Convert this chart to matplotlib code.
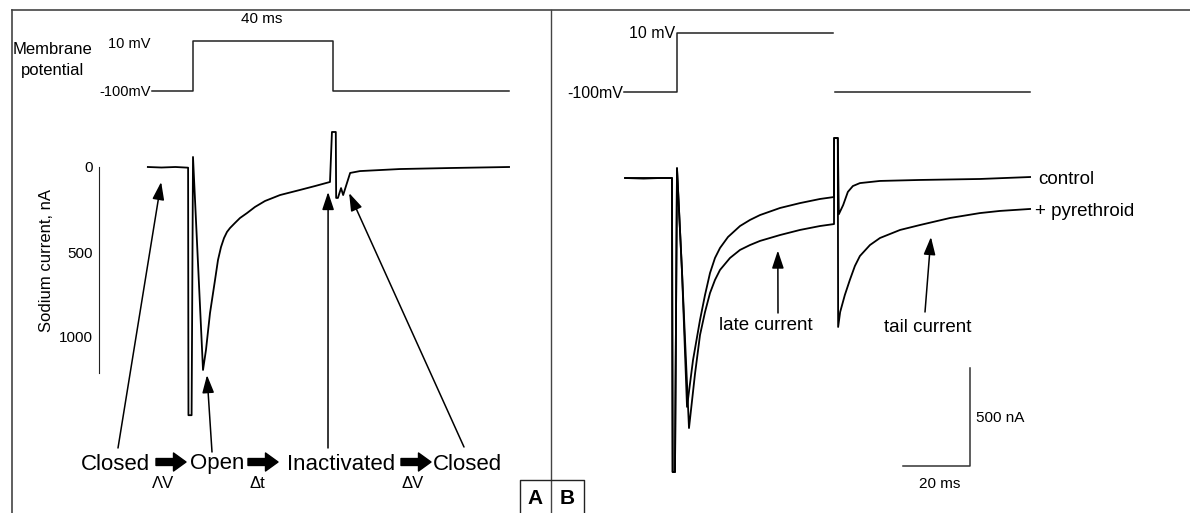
import matplotlib.pyplot as plt
from matplotlib import font_manager

W, H = 1190, 513

# ---- panel A: voltage protocol (ms, mV) ----
VA_T = [-11.7, 0, 0, 40, 40, 90.3]
VA_V = [-100, -100, 10, 10, -100, -100]

# ---- panel A: sodium current (ms, nA, inward plotted downward) ----
IA_T = [-12.9, -9.0, -5.0, -1.4, -1.3, -0.4, 0.0, 2.86, 3.71, 4.86, 6.29, 7.14, 8.0,
        8.86, 9.71, 10.57, 12.0, 13.43, 15.43, 17.71, 20.57, 24.86, 30.57, 34.86,
        39.14, 39.7, 40.8, 40.9, 41.4, 42.3, 42.9, 44.9, 47.7, 59.1, 73.4, 90.3]
IA_I = [0, 3, 0, 4, 1460, 1460, -59, 1194, 1076, 859, 665, 547, 471,
        418, 382, 359, 329, 300, 271, 235, 200, 165, 135, 112,
        88, -206, -206, 182, 182, 124, 165, 35, 24, 12, 6, 0]
IA_TICKS = [0, 500, 1000]

# ---- panel B: voltage protocol ----
VB_T = [-15.8, 0, 0, 46.6, float("nan"), 47.2, 105.4]
VB_V = [-100, -100, 10, 10, float("nan"), -100, -100]

# ---- panel B: control and pyrethroid currents ----
CTRL_T = [-15.5, -10.0, -5.0, -1.5, -1.3, -0.6, 0.0, 1.5, 2.99, 4.78, 6.87, 8.36, 9.85,
          11.34, 12.84, 15.22, 18.81, 21.79, 24.78, 30.75, 36.72, 42.69, 46.87, 46.9,
          48.0, 48.3, 49.6, 51.0, 52.5, 54.6, 60.6, 72.5, 90.4, 105.4]
CTRL_I = [0, 3, 0, 0, 1500, 1500, -50, 480, 1168, 929, 724, 597, 485,
          408, 357, 301, 245, 214, 189, 153, 128, 107, 97, -204,
          -204, 185, 138, 71, 41, 26, 15, 10, 5, -5]
PYR_T = [-15.5, -1.5, -1.3, -0.6, 0.0, 1.5, 3.58, 5.37, 6.87, 8.36, 9.85, 11.34, 12.84,
         15.82, 18.81, 21.79, 24.78, 30.75, 36.72, 42.69, 46.87, 46.9, 48.0, 48.1,
         48.7, 50.1, 51.6, 53.1, 54.6, 57.6, 60.6, 66.6, 72.5, 81.5, 90.4, 96.4, 105.4]
PYR_I = [0, 0, 1500, 1500, -50, 480, 1276, 1000, 801, 684, 587, 520, 469,
         408, 367, 342, 321, 291, 265, 245, 235, -204, -204, 760,
         684, 597, 520, 449, 398, 342, 306, 265, 240, 204, 179, 168, 158]
BAR_MS, BAR_NA = 20, 500

STATES = ["Closed", "Open", "Inactivated", "Closed"]
STEPS = ["\u039bV", "\u0394t", "\u0394V"]

plt.rcParams["font.family"] = ["Liberation Sans", "DejaVu Sans"]
try:
    font_manager.findfont("Liberation Sans Narrow", fallback_to_default=False)
    NARROW, NSCALE = "Liberation Sans Narrow", 1.0
except ValueError:
    NARROW, NSCALE = "Liberation Sans", 0.89


def px_axes(fig, x0, y0, sx, sy, xlim, ylim):
    """Axes whose data origin lands on pixel (x0, y0) counted from top-left."""
    xs = [x0 + v * sx for v in xlim]
    ys = [y0 + v * sy for v in ylim]
    left, right = min(xs), max(xs)
    top, bottom = min(ys), max(ys)
    ax = fig.add_axes([left / W, 1 - bottom / H, (right - left) / W, (bottom - top) / H])
    ax.set_xlim(xlim)
    if sy > 0:
        ax.set_ylim(max(ylim), min(ylim))
    else:
        ax.set_ylim(min(ylim), max(ylim))
    ax.patch.set_alpha(0)
    for s in ax.spines.values():
        s.set_visible(False)
    ax.set_xticks([])
    ax.set_yticks([])
    return ax


fig = plt.figure(figsize=(W / 100, H / 100), dpi=100)
ov = fig.add_axes([0, 0, 1, 1])
ov.set_xlim(0, W)
ov.set_ylim(H, 0)
ov.axis("off")

# frame
fc = "#444444"
ov.plot([12, W], [10, 10], color=fc, lw=1.2)
ov.plot([12, 12], [10, H], color=fc, lw=1.2)
ov.plot([551, 551], [10, H], color=fc, lw=1.0)
ov.plot([520, 520, 584, 584], [H, 480, 480, H], color="#222222", lw=1.0)
ov.text(535, 498, "A", ha="center", va="center", fontsize=15, fontweight="bold")
ov.text(567, 498, "B", ha="center", va="center", fontsize=15, fontweight="bold")

# ---- panel A ----
axVA = px_axes(fig, 193, 45.5, 3.5, -0.4545, (-27, 92), (-110, 20))
axVA.plot(VA_T, VA_V, color="#222222", lw=1.1)

axIA = px_axes(fig, 193, 167, 3.5, 0.17, (-26.9, 92), (-260, 1500))
axIA.plot(IA_T, IA_I, color="black", lw=1.3)
axIA.spines["left"].set_visible(True)
axIA.spines["left"].set_bounds(0, 1210)
axIA.spines["left"].set_color("#222222")
axIA.set_yticks(IA_TICKS)
axIA.set_yticklabels([str(v) for v in IA_TICKS], fontsize=11)
axIA.tick_params(axis="y", length=0, pad=4)

ov.text(262, 19, "40 ms", ha="center", va="center", fontsize=11)
ov.text(53, 49, "Membrane", ha="center", va="center", fontsize=12)
ov.text(53, 71, "potential", ha="center", va="center", fontsize=12)
ov.text(129, 44, "10 mV", ha="center", va="center", fontsize=10.5)
ov.text(151, 92, "-100mV", ha="right", va="center", fontsize=10.5)
ov.text(47, 260, "Sodium current, nA", ha="center", va="center", rotation=90, fontsize=12)

arrow = dict(arrowstyle="-|>,head_length=0.9,head_width=0.3", color="black", lw=1.1,
             mutation_scale=12, shrinkA=0, shrinkB=0)
for tip, tail in [((-9.1, 88), (118, 448)), ((4.0, 1224), (212, 452)),
                  ((38.6, 147), (328, 448)), ((44.6, 153), (464, 447))]:
    ov.annotate("", xy=tip, xycoords=axIA.transData, xytext=tail, textcoords=ov.transData,
                arrowprops=arrow, annotation_clip=False)

for x, s in zip([81, 190, 287, 433], STATES):
    ov.text(x, 464, s, ha="left", va="center", fontsize=18 * NSCALE, family=NARROW)
fat = dict(arrowstyle="simple,head_length=0.9,head_width=1.3,tail_width=0.5",
           mutation_scale=10, color="black", shrinkA=0, shrinkB=0)
for x0, x1 in [(156, 186), (248, 278), (401, 431)]:
    ov.annotate("", xy=(x1, 462), xytext=(x0, 462), arrowprops=fat)
for x, s in zip([163, 257, 413], STEPS):
    ov.text(x, 483, s, ha="center", va="center", fontsize=13.5 * NSCALE, family=NARROW)

# ---- panel B ----
axVB = px_axes(fig, 677, 38.4, 3.35, -0.536, (-17, 110), (-110, 20))
axVB.plot(VB_T, VB_V, color="#222222", lw=1.1)
ov.text(675, 33, "10 mV", ha="right", va="center", fontsize=11.5)
ov.text(623, 93, "-100mV", ha="right", va="center", fontsize=11.5)

axIB = px_axes(fig, 677, 178, 3.35, 0.196, (-17, 110), (-250, 1550))
axIB.plot(CTRL_T, CTRL_I, color="black", lw=1.3)
axIB.plot(PYR_T, PYR_I, color="black", lw=1.3)

bar_t, bar_i = 87.5, 1469
axIB.plot([bar_t - BAR_MS, bar_t, bar_t], [bar_i, bar_i, bar_i - BAR_NA], color="#333333", lw=1.1)
ov.text(976, 418, f"{BAR_NA} nA", ha="left", va="center", fontsize=11)
ov.text(940, 484, f"{BAR_MS} ms", ha="center", va="center", fontsize=11)

ov.text(1038, 180, "control", ha="left", va="center", fontsize=13.5)
ov.text(1035, 211, "+ pyrethroid", ha="left", va="center", fontsize=13.5)
ov.text(766, 326, "late current", ha="center", va="center", fontsize=13.5)
ov.text(928, 328, "tail current", ha="center", va="center", fontsize=13.5)
for tip, tail in [((30.1, 370), (778, 313)), ((75.8, 301), (925, 312))]:
    ov.annotate("", xy=tip, xycoords=axIB.transData, xytext=tail, textcoords=ov.transData,
                arrowprops=arrow, annotation_clip=False)

fig.savefig("out.png", dpi=100)
